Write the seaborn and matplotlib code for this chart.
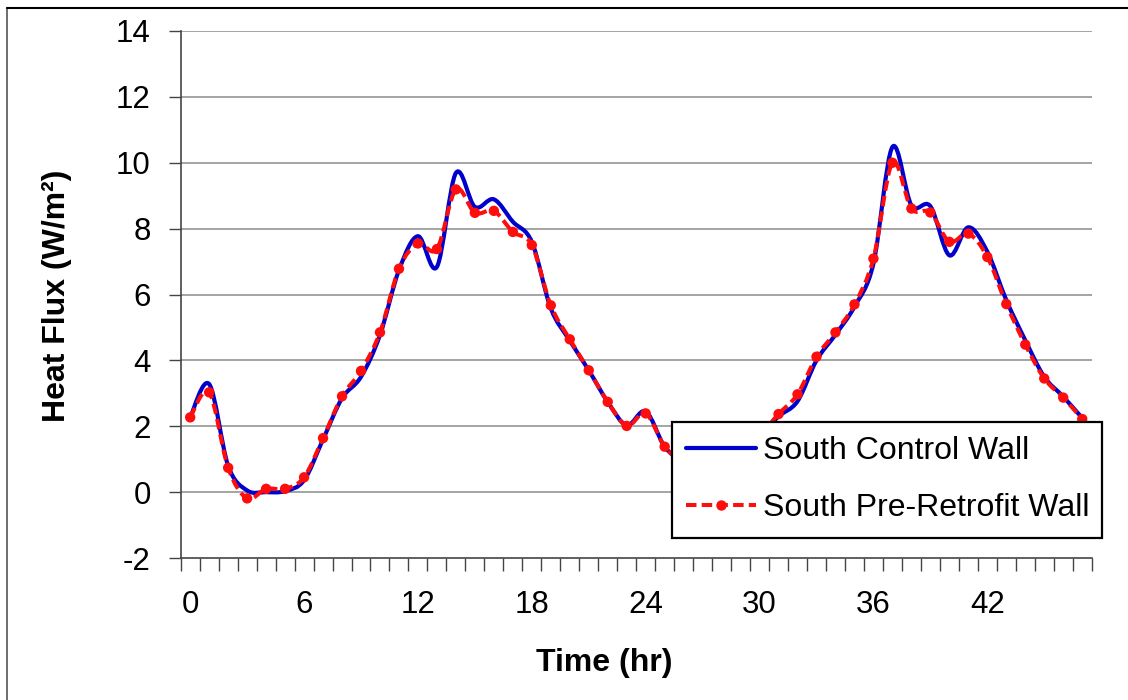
import matplotlib
matplotlib.use("Agg")
import matplotlib.pyplot as plt
import seaborn as sns
import numpy as np
from matplotlib.ticker import FixedLocator, NullFormatter
from matplotlib.lines import Line2D
from matplotlib.path import Path
from matplotlib.patches import PathPatch

hours = list(range(48))
control_wall = [2.27, 3.28, 0.80, 0.05, 0.00, 0.03, 0.36, 1.60, 2.85, 3.50,
                4.77, 6.74, 7.77, 6.84, 9.69, 8.66, 8.89, 8.21, 7.60, 5.58,
                4.60, 3.70, 2.74, 2.03, 2.45, 1.38, 0.90, 0.60, 0.70, 1.10,
                1.70, 2.30, 2.76, 4.00, 4.78, 5.63, 6.94, 10.48, 8.71, 8.68,
                7.19, 8.04, 7.30, 5.83, 4.61, 3.50, 2.90, 2.25]
pre_retrofit_wall = [2.27, 3.03, 0.74, -0.19, 0.10, 0.10, 0.45, 1.64, 2.91, 3.68,
                     4.85, 6.78, 7.55, 7.38, 9.19, 8.48, 8.54, 7.90, 7.50, 5.67,
                     4.64, 3.70, 2.74, 2.01, 2.39, 1.38, 0.90, 0.60, 0.70, 1.10,
                     1.70, 2.37, 2.97, 4.11, 4.85, 5.70, 7.09, 10.00, 8.61, 8.49,
                     7.60, 7.85, 7.14, 5.71, 4.48, 3.45, 2.87, 2.22]
series_names = ["South Control Wall", "South Pre-Retrofit Wall"]
x_tick_labels = [0, 6, 12, 18, 24, 30, 36, 42]
y_ticks = [-2, 0, 2, 4, 6, 8, 10, 12, 14]

sns.set_style("white")
plt.rcParams["font.family"] = ["Liberation Sans", "DejaVu Sans"]
plt.rcParams["text.color"] = "black"
plt.rcParams["axes.labelcolor"] = "black"
plt.rcParams["xtick.color"] = "black"
plt.rcParams["ytick.color"] = "black"

fig = plt.figure(figsize=(11.28, 7.0), dpi=100)
ax = fig.add_axes([180.7 / 1128, 1 - 558 / 700, 911 / 1128, 527 / 700])

blue = "#0000CC"
red = "#FF0D0D"


def smooth_path(xs, ys):
    """Excel-style smoothed line: cubic Bezier segments through the points."""
    p = np.column_stack([np.asarray(xs, float), np.asarray(ys, float)])
    n = len(p)
    verts = [p[0]]
    codes = [Path.MOVETO]
    for i in range(n - 1):
        p0 = p[i - 1] if i > 0 else p[i]
        p1 = p[i]
        p2 = p[i + 1]
        p3 = p[i + 2] if i + 2 < n else p[i + 1]
        c1 = p1 + (p2 - p0) / 6.0
        c2 = p2 - (p3 - p1) / 6.0
        verts += [c1, c2, p2]
        codes += [Path.CURVE4] * 3
    return Path(verts, codes)


for yv in y_ticks[1:]:
    ax.axhline(yv, color="#8c8c8c", lw=1.1, zorder=0)

ax.add_patch(PathPatch(smooth_path(hours, control_wall), fill=False,
                       edgecolor=blue, lw=3.0, zorder=3, capstyle="round",
                       joinstyle="round"))
ax.add_patch(PathPatch(smooth_path(hours, pre_retrofit_wall), fill=False,
                       edgecolor=red, lw=2.9, linestyle=(0, (2.6, 1.3)),
                       zorder=4))
sns.scatterplot(x=hours, y=pre_retrofit_wall, ax=ax, color=red, s=56,
                edgecolor="none", linewidth=0, zorder=5, legend=False)

ax.set_xlim(-0.5, 47.5)
ax.set_ylim(-2, 14)

ax.xaxis.set_major_locator(FixedLocator(x_tick_labels))
ax.set_xticklabels([str(v) for v in x_tick_labels])
ax.xaxis.set_minor_locator(FixedLocator(np.arange(-0.5, 48, 1.0)))
ax.xaxis.set_minor_formatter(NullFormatter())
ax.tick_params(axis="x", which="major", length=0, pad=23, labelsize=22.5,
               labelcolor="black")
ax.tick_params(axis="x", which="minor", length=9, width=1.0, direction="out",
               color="#444444", bottom=True)

ax.set_yticks(y_ticks)
ax.set_yticklabels([str(v) for v in y_ticks])
ax.tick_params(axis="y", which="major", length=9, width=1.0, direction="out",
               pad=12.5, labelsize=22.5, color="#444444", labelcolor="black",
               left=True)

for s in ["top", "right"]:
    ax.spines[s].set_visible(False)
for s in ["left", "bottom"]:
    ax.spines[s].set_color("#444444")
    ax.spines[s].set_linewidth(1.2)

ax.set_xlabel("Time (hr)", fontsize=23, fontweight="bold")
ax.set_ylabel("Heat Flux (W/m²)", fontsize=23, fontweight="bold")
ax.xaxis.set_label_coords((604 - 180.7) / 911, -(648 - 558) / 527)
ax.yaxis.set_label_coords(-(180.7 - 72) / 911, (558 - 296) / 527)

handles = [
    Line2D([], [], color=blue, lw=3.0),
    Line2D([], [], color=red, lw=2.9, linestyle=(0, (2.6, 1.3)), marker="o",
           markersize=7.5, markeredgewidth=0),
]
leg = ax.legend(handles, series_names, loc="lower left",
                bbox_to_anchor=(0.539, 0.0385, 1.011 - 0.539, 0.257 - 0.0385),
                mode="expand", fontsize=23, frameon=True, fancybox=False,
                framealpha=1, edgecolor="black", borderpad=0.45,
                labelspacing=0.85, handlelength=2.2, handletextpad=0.2,
                numpoints=1, borderaxespad=0)
leg.get_frame().set_linewidth(1.6)
leg.set_zorder(10)

# chart-area border (left and top edges visible)
fig.add_artist(Line2D([7 / 1128, 7 / 1128], [0, 1 - 8 / 700], color="#555555",
                      lw=1.2, transform=fig.transFigure))
fig.add_artist(Line2D([7 / 1128, 1], [1 - 8 / 700, 1 - 8 / 700], color="black",
                      lw=1.5, transform=fig.transFigure))

fig.savefig("out.png", dpi=100)
